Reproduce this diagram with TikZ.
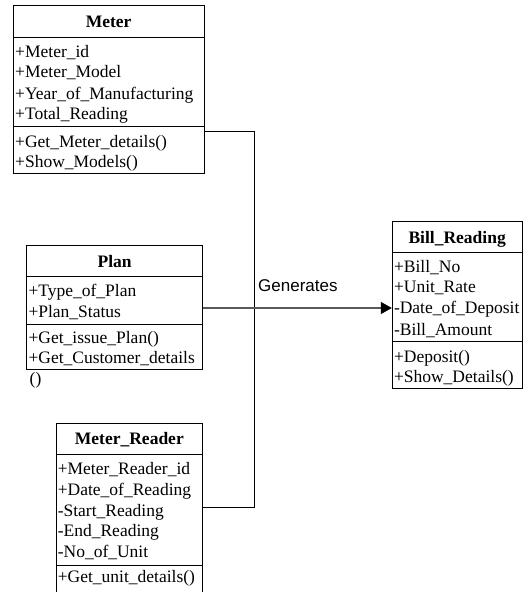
\documentclass[tikz,border=0pt]{standalone}
\usepackage{fontspec}
\setmainfont{Liberation Serif}
\newfontfamily\labelfont{Liberation Sans}
\usetikzlibrary{arrows.meta}
\tikzset{
  classbox/.style={draw=black, line width=1pt, inner sep=0pt},
  divider/.style={draw=black, line width=1pt},
  attr/.style={anchor=base west, inner sep=0pt, font=\fontsize{17.5}{21}\selectfont},
  ctitle/.style={anchor=base, inner sep=0pt, font=\fontsize{17.5}{21}\selectfont\bfseries},
  conn/.style={draw=black, line width=1pt},
  assoc/.style={draw=black!65, line width=1.2pt, -{Triangle[length=11pt,width=12pt,color=black]}},
  lbl/.style={anchor=base west, inner sep=0pt, font=\labelfont\fontsize{17}{20}\selectfont}
}
\begin{document}
\begin{tikzpicture}[x=1pt,y=-1pt]
\useasboundingbox (0,0) rectangle (523,592);
\fill[white] (0,0) rectangle (523,592);
\clip (0,0) rectangle (523,592);

% Meter
\draw[classbox] (13.3,5.3) rectangle (204,173.3);
\node[classbox, draw=none, minimum width=190.7pt, minimum height=168pt] (meter) at (108.65,89.3) {};
\draw[divider] (13.3,37.3) -- (204,37.3);
\draw[divider] (13.3,126.7) -- (204,126.7);
\node[ctitle] (meterT) at (108.65,27.5) {Meter};
\node[attr] (m1) at (15,57.5) {+Meter\_id};
\node[attr] (m2) at (15,77.5) {+Meter\_Model};
\node[attr] (m3) at (15,99) {+Year\_of\_Manufacturing};
\node[attr] (m4) at (15,119) {+Total\_Reading};
\node[attr] (m5) at (15,147.5) {+Get\_Meter\_details()};
\node[attr] (m6) at (15,167.5) {+Show\_Models()};

% Plan
\draw[classbox] (26.7,245) rectangle (202.7,369.3);
\node[classbox, draw=none, minimum width=176pt, minimum height=124.3pt] (plan) at (114.7,307.15) {};
\draw[divider] (26.7,276.7) -- (202.7,276.7);
\draw[divider] (26.7,324) -- (202.7,324);
\node[ctitle] (planT) at (114.7,267.5) {Plan};
\node[attr] (p1) at (28.3,296.5) {+Type\_of\_Plan};
\node[attr] (p2) at (28.3,317) {+Plan\_Status};
\node[attr] (p3) at (28.3,343) {+Get\_issue\_Plan()};
\node[attr] (p4) at (28.3,363.5) {+Get\_Customer\_details};
\node[attr] (p5) at (29.5,384.5) {()};

% Meter_Reader
\draw[classbox] (56,423.3) rectangle (202.7,610);
\node[classbox, draw=none, minimum width=146.7pt, minimum height=186.7pt] (reader) at (129.35,516.65) {};
\draw[divider] (56,454.3) -- (202.7,454.3);
\draw[divider] (56,565) -- (202.7,565);
\node[ctitle] (readerT) at (129.35,444) {Meter\_Reader};
\node[attr] (r1) at (57.6,474) {+Meter\_Reader\_id};
\node[attr] (r2) at (57.6,495) {+Date\_of\_Reading};
\node[attr] (r3) at (57.6,516) {-Start\_Reading};
\node[attr] (r4) at (57.6,536) {-End\_Reading};
\node[attr] (r5) at (57.6,557) {-No\_of\_Unit};
\node[attr] (r6) at (57.6,582.5) {+Get\_unit\_details()};

% Bill_Reading
\draw[classbox] (392.3,221.7) rectangle (522,388);
\node[classbox, draw=none, minimum width=129.7pt, minimum height=166.3pt] (bill) at (457.15,304.85) {};
\draw[divider] (392.3,252.7) -- (522,252.7);
\draw[divider] (392.3,341) -- (522,341);
\node[ctitle] (billT) at (457.15,243.5) {Bill\_Reading};
\node[attr] (b1) at (393.8,272.5) {+Bill\_No};
\node[attr] (b2) at (393.8,292.5) {+Unit\_Rate};
\node[attr] (b3) at (393.8,313.5) {-Date\_of\_Deposit};
\node[attr] (b4) at (393.8,335) {-Bill\_Amount};
\node[attr] (b5) at (393.8,362.5) {+Deposit()};
\node[attr] (b6) at (393.8,382.5) {+Show\_Details()};

% Connectors
\draw[conn] (meter.east |- 0,131.7) -- (254,131.7) |- (reader.east |- 0,507);
\draw[assoc] (plan.east |- 0,308) -- (bill.west |- 0,308);
\node[lbl] (gen) at (258,291) {Generates};
\end{tikzpicture}
\end{document}
